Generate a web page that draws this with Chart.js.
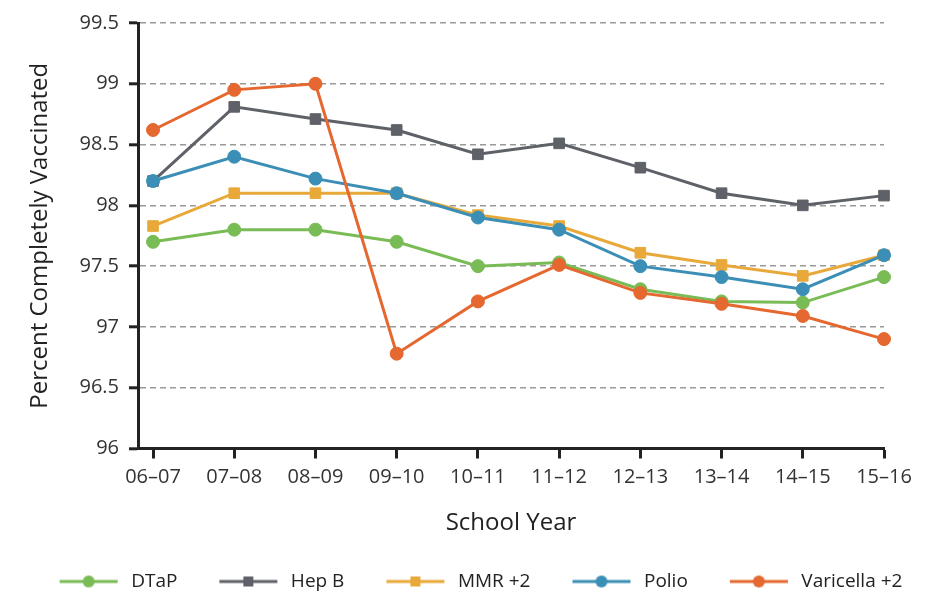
<!DOCTYPE html>
<html>
<head>
<meta charset="utf-8">
<script src="https://cdn.jsdelivr.net/npm/chart.js@4/dist/chart.umd.min.js"></script>
<style>
  html, body { margin: 0; padding: 0; background: #fff; }
  #wrap { width: 940px; height: 598px; position: relative; }
</style>
</head>
<body>
<div id="wrap"><canvas id="chart"></canvas></div>
<script>
/* ---- DATA ---- */
const years     = ['06–07', '07–08', '08–09', '09–10', '10–11', '11–12', '12–13', '13–14', '14–15', '15–16'];
const dtap      = [97.70, 97.80, 97.80, 97.70, 97.50, 97.53, 97.31, 97.21, 97.20, 97.41];
const hepB      = [98.20, 98.81, 98.71, 98.62, 98.42, 98.51, 98.31, 98.10, 98.00, 98.08];
const mmr       = [97.83, 98.10, 98.10, 98.10, 97.92, 97.83, 97.61, 97.51, 97.42, 97.59];
const polio     = [98.20, 98.40, 98.22, 98.10, 97.90, 97.80, 97.50, 97.41, 97.31, 97.59];
const varicella = [98.62, 98.95, 99.00, 96.78, 97.21, 97.51, 97.28, 97.19, 97.09, 96.90];
const yTicks    = [96, 96.5, 97, 97.5, 98, 98.5, 99, 99.5];

const COLORS = {
  green:  '#79bb55',
  gray:   '#5e6167',
  yellow: '#e8a93a',
  blue:   '#3b8fb6',
  orange: '#e4682f'
};

const FONT = '"Open Sans", "Noto Sans", sans-serif';

/* ---- legend swatch: line + marker drawn on a small canvas ---- */
function swatch(color, shape) {
  const c = document.createElement('canvas');
  c.width = 84; c.height = 16;
  const g = c.getContext('2d');
  g.strokeStyle = color; g.fillStyle = color; g.lineWidth = 3;
  g.beginPath(); g.moveTo(22, 8); g.lineTo(80, 8); g.stroke();
  if (shape === 'rect') g.fillRect(46, 3, 10, 10);
  else { g.beginPath(); g.arc(51, 8, 6, 0, Math.PI * 2); g.fill(); }
  return c;
}

function series(label, values, color, shape, order) {
  return {
    label,
    data: values.map((v, i) => ({ x: i, y: v })),
    borderColor: color,
    backgroundColor: color,
    borderWidth: 3,
    pointStyle: shape,
    pointRadius: shape === 'rect' ? 7.5 : 6.5,
    pointBorderWidth: 1,
    pointBorderColor: color,
    pointBackgroundColor: color,
    tension: 0,
    clip: false,
    order,
    swatch: swatch(color, shape)
  };
}

const datasets = [
  series('DTaP',         dtap,      COLORS.green,  'circle', 5),
  series('Hep B',        hepB,      COLORS.gray,   'rect',   4),
  series('MMR +2',       mmr,       COLORS.yellow, 'rect',   3),
  series('Polio',        polio,     COLORS.blue,   'circle', 2),
  series('Varicella +2', varicella, COLORS.orange, 'circle', 1)
];

new Chart(document.getElementById('chart'), {
  type: 'line',
  data: { datasets },
  options: {
    responsive: true,
    maintainAspectRatio: false,
    animation: false,
    layout: { padding: { top: 23, left: 0, right: 0, bottom: -3 } },
    plugins: {
      tooltip: { enabled: false },
      legend: {
        position: 'bottom',
        labels: {
          usePointStyle: true,
          pointStyleWidth: 84,
          boxHeight: 16,
          padding: 20,
          color: '#222',
          font: { family: FONT, size: 19 },
          sort: (a, b) => a.datasetIndex - b.datasetIndex,
          generateLabels: chart => {
            const items = Chart.defaults.plugins.legend.labels.generateLabels(chart);
            items.forEach(it => { it.pointStyle = chart.data.datasets[it.datasetIndex].swatch; });
            return items;
          }
        }
      }
    },
    scales: {
      x: {
        type: 'linear',
        min: -0.185,
        max: years.length - 1,
        afterBuildTicks: s => { s.ticks = years.map((_, i) => ({ value: i })); },
        afterFit: s => { s.height = 103.5; },
        ticks: {
          color: '#333',
          padding: 7,
          maxRotation: 0,
          autoSkip: false,
          font: { family: FONT, size: 20 },
          callback: v => years[v]
        },
        grid: {
          drawOnChartArea: false,
          drawTicks: true,
          tickLength: 10,
          tickWidth: 3,
          tickColor: '#222',
          color: '#222'
        },
        border: { display: true, color: '#222', width: 3 },
        title: {
          display: true,
          text: 'School Year',
          color: '#222',
          font: { family: FONT, size: 24 },
          padding: { top: 0, bottom: 14 }
        }
      },
      y: {
        min: 96,
        max: 99.5,
        afterBuildTicks: s => { s.ticks = yTicks.map(v => ({ value: v })); },
        afterFit: s => { s.width = 138; },
        ticks: {
          color: '#333',
          padding: 10,
          font: { family: FONT, size: 20 },
          callback: v => String(v)
        },
        grid: {
          color: c => (c.tick && c.tick.value === 96) ? 'rgba(0,0,0,0)' : '#999999',
          lineWidth: 1.6,
          drawTicks: true,
          tickLength: 9,
          tickWidth: 3,
          tickColor: '#222'
        },
        border: { display: true, color: '#222', width: 3, dash: [6, 4] },
        title: {
          display: true,
          text: 'Percent Completely Vaccinated',
          color: '#222',
          font: { family: FONT, size: 24 },
          padding: { top: 26, bottom: 0 }
        }
      },
      // empty right-hand axis, only reserves the margin right of the plot
      gutter: {
        type: 'linear',
        position: 'right',
        afterFit: s => { s.width = 56; },
        ticks: { display: false },
        grid: { display: false },
        border: { display: false }
      }
    }
  }
});
</script>
</body>
</html>
